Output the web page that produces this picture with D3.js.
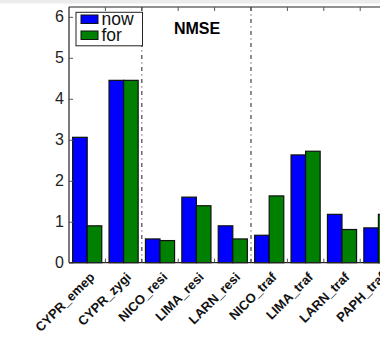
<!DOCTYPE html>
<html><head><meta charset="utf-8">
<script src="https://cdn.jsdelivr.net/npm/d3@7"></script>
<style>html,body{margin:0;padding:0;background:#fff;overflow:hidden}</style>
</head><body>
<script>
const categories = ["CYPR_emep","CYPR_zygi","NICO_resi","LIMA_resi","LARN_resi","NICO_traf","LIMA_traf","LARN_traf","PAPH_traf"];
const nowValues = [3.06, 4.45, 0.58, 1.60, 0.90, 0.67, 2.63, 1.18, 0.85];
const forValues = [0.90, 4.45, 0.54, 1.39, 0.58, 1.63, 2.72, 0.81, 1.18];
const seriesNames = ["now","for"];
const seriesColors = ["#0000ff","#008000"];
const yTicks = [0,1,2,3,4,5,6];
const separatorsAfter = [2,5];
const title = "NMSE";

(function(){
const W = 380, H = 341;
const svg = d3.select("body").append("svg").attr("width",W).attr("height",H)
  .style("font-family","'Liberation Sans', Arial, sans-serif");
svg.append("rect").attr("width",W).attr("height",H).attr("fill","#fff");
svg.append("rect").attr("width",W).attr("height",3.5).attr("fill","#ececec");

const mLeft = 69, mTop = 7, mBottom = 262.7, step = 36.4;
const mRight = mLeft + step*categories.length;
const x = d3.scaleBand().domain(categories).range([mLeft,mRight]).padding(0);
const y = d3.scaleLinear().domain([0,6.24]).range([mBottom, mTop]);
const sub = d3.scaleBand().domain(seriesNames).range([0.1*step, 0.9*step]).padding(0);

const data = categories.map((c,i)=>({c, vals:[nowValues[i], forValues[i]]}));
const g = svg.append("g");
data.forEach(d=>{
  d.vals.forEach((v,j)=>{
    g.append("rect")
      .attr("x", x(d.c)+sub(seriesNames[j]))
      .attr("width", sub.bandwidth())
      .attr("y", y(v))
      .attr("height", y(0)-y(v))
      .attr("fill", seriesColors[j])
      .attr("stroke","#111").attr("stroke-width",1.2);
  });
});

separatorsAfter.forEach(k=>{
  const xx = x(categories[k]);
  svg.append("line").attr("x1",xx).attr("x2",xx).attr("y1",mTop).attr("y2",mBottom)
    .attr("stroke","#444").attr("stroke-width",1.2).attr("stroke-dasharray","4,3.5,1,3.5");
});

const ax = svg.append("g").attr("stroke","#222").attr("fill","none");
ax.append("line").attr("x1",mLeft).attr("x2",mLeft).attr("y1",mTop).attr("y2",mBottom).attr("stroke-width",1.2);
ax.append("line").attr("x1",mLeft).attr("x2",mRight).attr("y1",mBottom).attr("y2",mBottom).attr("stroke-width",1.2);
ax.append("line").attr("x1",mLeft).attr("x2",mRight).attr("y1",mTop).attr("y2",mTop).attr("stroke-width",1.2);

categories.forEach((c,i)=>{
  if(i===0) return;
  const xx = x(c);
  ax.append("line").attr("x1",xx).attr("x2",xx).attr("y1",mTop).attr("y2",mTop+4).attr("stroke","#555");
  ax.append("line").attr("x1",xx).attr("x2",xx).attr("y1",mBottom).attr("y2",mBottom-4).attr("stroke","#555");
});

const yAxis = d3.axisLeft(y).tickValues(yTicks).tickFormat(d3.format("d")).tickSizeInner(-4).tickSizeOuter(0).tickPadding(5);
const ya = svg.append("g").attr("transform",`translate(${mLeft},0)`).call(yAxis);
ya.select(".domain").remove();
ya.selectAll(".tick line").attr("stroke","#555");
ya.selectAll(".tick text").attr("font-size",16).attr("fill","#222")
  .attr("font-family","'Liberation Sans', Arial, sans-serif");

const xl = svg.append("g");
categories.forEach(c=>{
  const tx = x(c)+step/2+5, ty = mBottom+12;
  xl.append("text").attr("x",tx).attr("y",ty)
    .attr("transform","rotate(-45 " + tx + " " + ty + ")")
    .attr("text-anchor","end").attr("dy","0.35em")
    .attr("font-size",13).attr("font-weight","bold").attr("fill","#111").text(c);
});

svg.append("text").attr("x",197).attr("y",34).attr("text-anchor","middle")
  .attr("font-size",16).attr("font-weight","bold").attr("fill","#000").text(title);

const lg = svg.append("g");
lg.append("rect").attr("x",76).attr("y",12.3).attr("width",66.5).attr("height",33.5)
  .attr("fill","#fff").attr("stroke","#222").attr("stroke-width",1);
seriesNames.forEach((n,j)=>{
  const yy = 15 + j*16;
  lg.append("rect").attr("x",81).attr("y",yy).attr("width",17).attr("height",8.5)
    .attr("fill",seriesColors[j]).attr("stroke","#111").attr("stroke-width",1);
  lg.append("text").attr("x",101.5).attr("y",yy+9.5).attr("font-size",17.5).attr("fill","#111").text(n);
});
})();
</script>
</body></html>
